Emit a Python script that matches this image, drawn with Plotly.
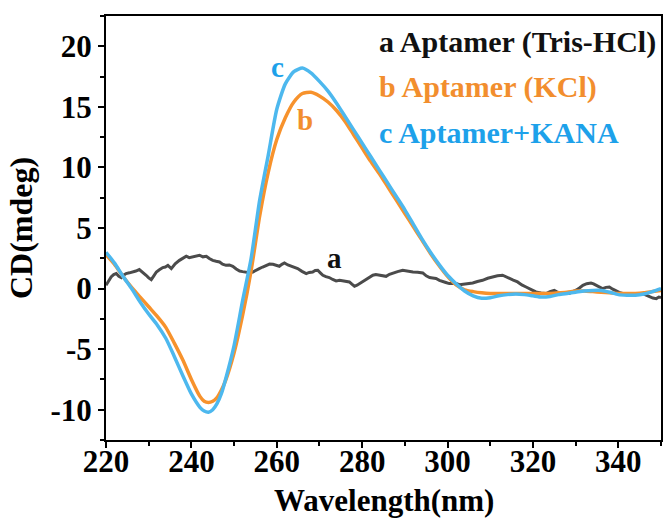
import plotly.graph_objects as go

# ---- data ----
wl_bc = [220, 222, 224, 226, 228, 230, 232, 234, 236, 238, 240, 242, 243, 244, 245, 246, 247, 248,
         250, 252, 254, 256, 258, 260, 262, 264, 266, 268, 270, 272, 274, 276, 278, 280, 282, 284,
         286, 288, 290, 292, 294, 296, 298, 300, 302, 304, 306, 308, 310, 312, 314, 316, 318, 320,
         322, 324, 326, 328, 330, 332, 334, 336, 338, 340, 342, 344, 346, 348, 350]

cd_c = [3.0, 2.1, 1.0, 0.0, -1.1, -2.1, -3.0, -4.1, -5.6, -7.2, -8.7, -9.8, -10.1, -10.2, -10.0, -9.5, -8.7, -7.5,
        -4.7, -1.0, 2.5, 7.3, 11.0, 14.8, 16.9, 17.9, 18.2, 17.8, 17.1, 16.3, 15.3, 14.2, 13.1, 12.0, 10.9, 9.8,
        8.7, 7.6, 6.5, 5.3, 4.1, 3.0, 2.0, 1.1, 0.4, -0.2, -0.6, -0.8, -0.75, -0.6, -0.5, -0.45, -0.5, -0.6,
        -0.7, -0.65, -0.5, -0.4, -0.3, -0.2, -0.15, -0.15, -0.3, -0.5, -0.55, -0.55, -0.45, -0.25, 0.0]

cd_b = [2.8, 2.0, 1.0, 0.1, -0.7, -1.5, -2.3, -3.2, -4.5, -5.9, -7.5, -8.9, -9.3, -9.4, -9.3, -9.0, -8.4, -7.6,
        -5.3, -2.2, 1.5, 6.0, 9.6, 12.3, 14.1, 15.4, 16.1, 16.2, 15.9, 15.4, 14.7, 13.8, 12.7, 11.6, 10.5, 9.5,
        8.4, 7.3, 6.2, 5.1, 4.0, 2.9, 1.9, 1.0, 0.3, -0.1, -0.25, -0.35, -0.4, -0.4, -0.4, -0.4, -0.4, -0.4,
        -0.4, -0.4, -0.35, -0.3, -0.2, -0.2, -0.25, -0.3, -0.35, -0.4, -0.4, -0.4, -0.35, -0.25, -0.15]

wl_a = [220.0, 220.6, 221.2, 221.8, 222.4, 223.0, 223.6, 224.2, 224.7, 225.5, 226.3, 227.0, 227.8, 228.6,
        229.4, 230.0, 230.6, 231.2, 231.8, 232.5, 233.3, 233.9, 234.5, 235.3, 236.2, 237.2, 238.0, 238.8,
        239.5, 240.3, 241.1, 241.9, 242.7, 243.5, 244.2, 245.0, 245.8, 246.6, 247.3, 248.1, 248.9, 249.7,
        250.5, 251.3, 252.0, 252.8, 253.6, 254.4, 255.1, 255.9, 256.7, 257.5, 258.3, 259.1, 259.8, 260.6,
        261.2, 261.8, 262.6, 263.4, 264.1, 264.9, 265.9, 266.9, 267.6, 268.4, 269.0, 269.6, 270.2, 270.8,
        271.5, 272.3, 273.1, 273.9, 274.7, 275.5, 276.2, 277.0, 277.6, 278.2, 278.8, 279.4, 280.1, 280.9,
        281.7, 282.5, 283.2, 284.0, 284.8, 285.6, 286.4, 287.2, 288.3, 289.5, 290.7, 291.9, 293.0, 294.2,
        295.0, 295.8, 296.5, 297.3, 298.1, 298.9, 299.6, 300.4, 301.2, 302.0, 302.8, 303.6, 304.7, 305.9,
        307.0, 308.2, 309.4, 310.6, 311.7, 312.9, 313.7, 314.5, 315.4, 316.4, 317.4, 318.4, 319.5, 320.7,
        321.9, 323.1, 324.0, 325.0, 325.8, 326.6, 327.5, 328.5, 329.3, 330.1, 330.9, 331.7, 332.6, 333.6,
        334.2, 334.8, 335.5, 336.3, 337.1, 337.9, 338.7, 339.5, 340.2, 341.0, 341.8, 342.6, 343.4, 344.2,
        344.9, 345.7, 346.5, 347.3, 348.1, 348.9, 349.5, 350.0]
cd_a = [0.27, 0.65, 0.96, 1.15, 1.24, 1.02, 0.91, 1.12, 1.24, 1.30, 1.37, 1.45, 1.57, 1.35,
        1.10, 0.88, 0.74, 1.05, 1.37, 1.55, 1.73, 1.78, 1.92, 1.65, 2.05, 2.33, 2.52, 2.67,
        2.55, 2.60, 2.70, 2.75, 2.62, 2.67, 2.48, 2.33, 2.26, 2.20, 2.02, 1.92, 1.95, 1.84,
        1.62, 1.45, 1.40, 1.37, 1.30, 1.37, 1.52, 1.65, 1.78, 1.92, 2.02, 2.00, 1.90, 1.84,
        2.00, 2.11, 1.95, 1.84, 1.72, 1.65, 1.42, 1.24, 1.33, 1.37, 1.50, 1.51, 1.30, 1.10,
        0.98, 0.91, 0.75, 0.63, 0.68, 0.63, 0.60, 0.55, 0.36, 0.19, 0.28, 0.41, 0.60, 0.74,
        0.92, 1.10, 1.15, 1.10, 1.04, 1.01, 1.18, 1.29, 1.40, 1.51, 1.42, 1.37, 1.35, 1.29,
        1.05, 0.91, 0.88, 0.83, 0.68, 0.55, 0.50, 0.41, 0.44, 0.41, 0.32, 0.35, 0.40, 0.46,
        0.58, 0.68, 0.85, 0.96, 1.05, 1.10, 0.95, 0.83, 0.70, 0.55, 0.30, 0.13, -0.10, -0.28,
        -0.36, -0.41, -0.25, -0.14, -0.30, -0.41, -0.38, -0.41, -0.25, -0.14, 0.05, 0.27, 0.40, 0.46,
        0.38, 0.27, 0.12, 0.00, 0.10, 0.13, -0.05, -0.20, -0.32, -0.41, -0.38, -0.41, -0.46, -0.47,
        -0.43, -0.41, -0.55, -0.69, -0.78, -0.83, -0.70, -0.74]

x_tick_vals = [220, 240, 260, 280, 300, 320, 340]
x_tick_text = ["220", "240", "260", "280", "300", "320", "340"]
y_tick_vals = [-10, -5, 0, 5, 10, 15, 20]
y_tick_text = ["-10", "-5", "0", "5", "10", "15", "20"]

legend_texts = ["a Aptamer (Tris-HCl)", "b Aptamer (KCl)", "c Aptamer+KANA"]

# ---- style ----
FONT = "Liberation Serif, Times New Roman, serif"
C_A = "#4b4b4b"
C_B = "#f7922c"
C_C = "#4db8ee"
T_A = "#111111"
T_B = "#f28e2e"
T_C = "#1da1ea"

fig = go.Figure()
fig.add_trace(go.Scatter(x=wl_a, y=cd_a, mode="lines", line=dict(color=C_A, width=3), showlegend=False))
fig.add_trace(go.Scatter(x=wl_bc, y=cd_b, mode="lines", line=dict(color=C_B, width=3.5, shape="spline", smoothing=0.6), showlegend=False))
fig.add_trace(go.Scatter(x=wl_bc, y=cd_c, mode="lines", line=dict(color=C_C, width=3.5, shape="spline", smoothing=0.6), showlegend=False))

axis_common = dict(
    showline=True, linecolor="black", linewidth=2, mirror=True,
    ticks="outside", ticklen=6, tickwidth=2, tickcolor="black",
    showgrid=False, zeroline=False,
    tickfont=dict(family=FONT, size=31, color="black", weight="bold"),
    tickmode="array",
)

fig.update_xaxes(**axis_common, range=[220, 350], tickvals=x_tick_vals, ticktext=x_tick_text,
                 ticklabelstandoff=-13,
                 minor=dict(ticks="outside", ticklen=4, tickwidth=2, tickcolor="black", dtick=10, tick0=220))
fig.update_yaxes(**axis_common, range=[-12.5, 22.5], tickvals=y_tick_vals, ticktext=y_tick_text,
                 minor=dict(ticks="outside", ticklen=4, tickwidth=2, tickcolor="black", dtick=2.5, tick0=0),
                 title=dict(text="CD(mdeg)", font=dict(family=FONT, size=32, color="black", weight="bold"), standoff=8))

# x-axis title as annotation for exact placement
fig.add_annotation(x=0.5, y=-0.142, xref="paper", yref="paper", text="Wavelength(nm)", showarrow=False,
                   xanchor="center", yanchor="middle",
                   font=dict(family=FONT, size=31, color="black", weight="bold"))

legend_colors = [T_A, T_B, T_C]
legend_y = [0.938, 0.832, 0.726]
for txt, col, yy in zip(legend_texts, legend_colors, legend_y):
    fig.add_annotation(x=0.489, y=yy, xref="paper", yref="paper", text=txt, showarrow=False,
                       xanchor="left", yanchor="middle",
                       font=dict(family=FONT, size=30, color=col, weight="bold"))

for lbl, xx, yy, col in [("c", 260.2, 18.3, T_C), ("b", 266.7, 13.9, T_B), ("a", 273.5, 2.5, T_A)]:
    fig.add_annotation(x=xx, y=yy, text=lbl, showarrow=False, xanchor="center", yanchor="middle",
                       font=dict(family=FONT, size=29, color=col, weight="bold"))

fig.update_layout(
    width=665, height=520,
    margin=dict(l=106, r=4, t=16, b=80, autoexpand=False),
    plot_bgcolor="white", paper_bgcolor="white",
)

fig.write_html("out.html")
